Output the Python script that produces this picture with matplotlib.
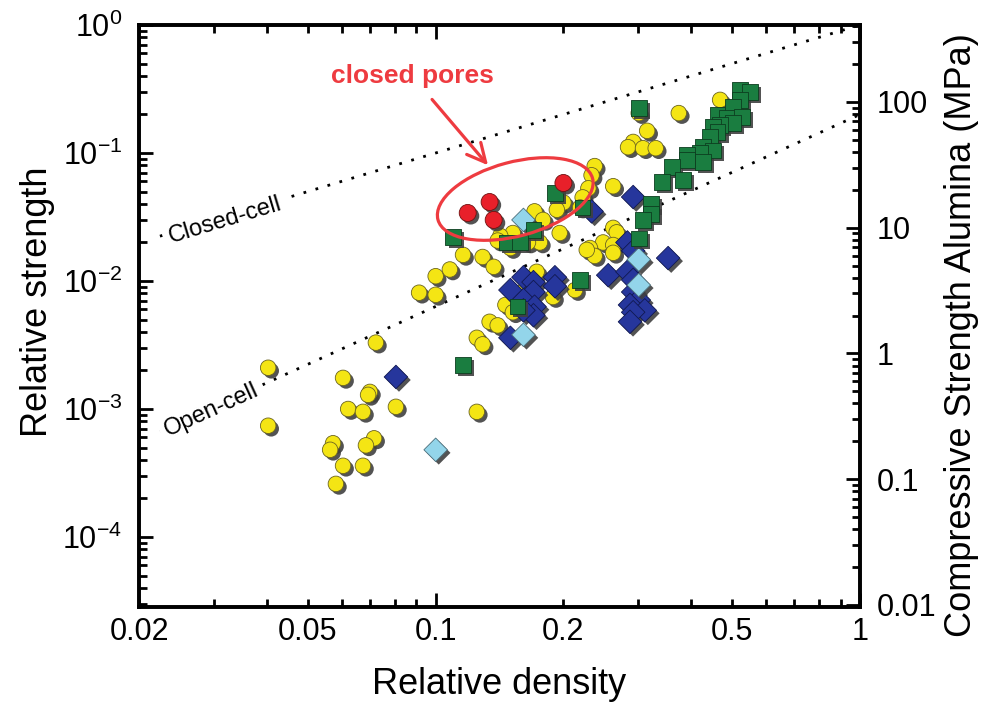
import numpy as np
import matplotlib
matplotlib.use('Agg')
import matplotlib.pyplot as plt
import matplotlib.ticker as mticker
import matplotlib.patheffects as pe
from matplotlib.patches import Ellipse
from matplotlib.transforms import ScaledTranslation

plt.rcParams['font.family'] = ['Liberation Sans', 'DejaVu Sans']
plt.rcParams['mathtext.fontset'] = 'custom'
plt.rcParams['mathtext.rm'] = 'Liberation Sans'
plt.rcParams['mathtext.default'] = 'regular'

# data: (relative density, relative strength)
yellow_x = [0.301, 0.374, 0.468, 0.315, 0.292, 0.284, 0.308, 0.330, 0.237, 0.233,
            0.229, 0.222, 0.262, 0.200, 0.193, 0.171, 0.179, 0.196, 0.176, 0.152,
            0.142, 0.150, 0.165, 0.219, 0.129, 0.137, 0.140, 0.116, 0.108, 0.100,
            0.0914, 0.100, 0.262, 0.267, 0.248, 0.262, 0.231, 0.237, 0.262, 0.227,
            0.173, 0.213, 0.161, 0.189, 0.146, 0.152, 0.134, 0.140, 0.125, 0.129,
            0.0723, 0.0403, 0.0605, 0.070, 0.0693, 0.0806, 0.0622, 0.0674, 0.125, 0.0403,
            0.0716, 0.0685, 0.0573, 0.0564, 0.0605, 0.0674, 0.0582]
yellow_y = [0.205, 0.205, 0.260, 0.149, 0.122, 0.111, 0.109, 0.109, 0.079, 0.067,
            0.053, 0.045, 0.055, 0.041, 0.036, 0.035, 0.030, 0.0237, 0.020, 0.0237,
            0.0225, 0.0181, 0.020, 0.0375, 0.0154, 0.0129, 0.0207, 0.016, 0.0123, 0.0109,
            0.0081, 0.0078, 0.026, 0.024, 0.020, 0.0191, 0.0181, 0.0157, 0.0166, 0.0175,
            0.0118, 0.0085, 0.0083, 0.0075, 0.0065, 0.0057, 0.0048, 0.0045, 0.0036, 0.0032,
            0.0033, 0.0021, 0.00175, 0.00136, 0.00129, 0.00104, 0.0010, 0.00095, 0.00095, 0.00074,
            0.00059, 0.00052, 0.00054, 0.00048, 0.00036, 0.00036, 0.00026]

red_x = [0.119, 0.134, 0.137, 0.200]
red_y = [0.034, 0.0414, 0.030, 0.0583]

green_x = [0.110, 0.301, 0.521, 0.551, 0.521, 0.462, 0.502, 0.486, 0.527, 0.502,
           0.468, 0.450, 0.462, 0.443, 0.427, 0.450, 0.420, 0.391, 0.391, 0.427,
           0.360, 0.383, 0.341, 0.191, 0.222, 0.170, 0.147, 0.158, 0.322, 0.322,
           0.308, 0.301, 0.219, 0.156, 0.116]
green_y = [0.0221, 0.225, 0.310, 0.300, 0.260, 0.198, 0.229, 0.188, 0.191, 0.172,
           0.166, 0.160, 0.146, 0.133, 0.111, 0.105, 0.100, 0.0965, 0.0882, 0.0851,
           0.0778, 0.0615, 0.0593, 0.0487, 0.0375, 0.025, 0.020, 0.020, 0.040, 0.0335,
           0.030, 0.0215, 0.0102, 0.0063, 0.0022]

blue_x = [0.292, 0.233, 0.283, 0.292, 0.353, 0.255, 0.283, 0.292, 0.292, 0.301,
          0.287, 0.311, 0.292, 0.287, 0.191, 0.191, 0.161, 0.170, 0.150, 0.170,
          0.161, 0.171, 0.170, 0.161, 0.150, 0.0806]
blue_y = [0.0453, 0.035, 0.020, 0.0172, 0.0151, 0.0111, 0.0118, 0.0102, 0.0082, 0.0071,
          0.0065, 0.0059, 0.0057, 0.0048, 0.0107, 0.0091, 0.0107, 0.0098, 0.0085, 0.0082,
          0.0071, 0.0063, 0.0054, 0.0059, 0.0036, 0.00178]

cyan_x = [0.161, 0.301, 0.301, 0.161, 0.100]
cyan_y = [0.030, 0.0147, 0.0093, 0.0038, 0.00048]

# model lines (Gibson-Ashby style)
line_x = [0.0224, 1.0]
closed_coef, closed_exp = 1.0, 1.0
open_coef, open_exp = 0.2, 1.5

x_major = [0.1, 1]
x_labelled = {0.02: '0.02', 0.05: '0.05', 0.1: '0.1', 0.2: '0.2', 0.5: '0.5', 1: '1'}
right_ticks = [0.01, 0.1, 1, 10, 100]
right_labels = ['0.01', '0.1', '1', '10', '100']

fig = plt.figure(figsize=(9.96, 7.08), dpi=100)
ax = fig.add_axes([0.1396, 0.1427, 0.7239, 0.8220])
ax.set_xscale('log')
ax.set_yscale('log')
ax.set_xlim(0.02, 1)
ax.set_ylim(2.84e-5, 1)

shadow = [pe.SimplePatchShadow(offset=(2.2, -2.2), shadow_rgbFace='0.25', alpha=0.9), pe.Normal()]
ms = 125
ax.scatter(yellow_x, yellow_y, s=ms, marker='o', c='#f4e514', edgecolors='#6b6420',
           linewidths=0.6, zorder=3, path_effects=shadow)
ax.scatter(blue_x, blue_y, s=ms * 1.15, marker='D', c='#26369c', edgecolors='#101850',
           linewidths=0.6, zorder=3, path_effects=shadow)
ax.scatter(cyan_x, cyan_y, s=ms * 1.15, marker='D', c='#93d5ea', edgecolors='#4b6e7a',
           linewidths=0.6, zorder=3, path_effects=shadow)
ax.scatter(green_x, green_y, s=ms, marker='s', c='#1a7d40', edgecolors='#0c3d1f',
           linewidths=0.6, zorder=3, path_effects=shadow)
ax.scatter(red_x, red_y, s=ms * 1.2, marker='o', c='#e8202a', edgecolors='#701010',
           linewidths=0.6, zorder=4, path_effects=shadow)

lx = np.array(line_x)
ax.plot(lx, closed_coef * lx ** closed_exp, color='k', lw=2.0, dashes=(1, 3.5), zorder=2)
ax.plot(lx, open_coef * lx ** open_exp, color='k', lw=2.0, dashes=(1, 3.5), zorder=2)
ax.text(0.0319, 0.030, 'Closed-cell', rotation=16.8, rotation_mode='anchor',
        ha='center', va='center', fontsize=17, zorder=2.5,
        bbox=dict(boxstyle='square,pad=0.25', fc='white', ec='none'))
ax.text(0.0297, 0.00098, 'Open-cell', rotation=24.4, rotation_mode='anchor',
        ha='center', va='center', fontsize=17, zorder=2.5,
        bbox=dict(boxstyle='square,pad=0.25', fc='white', ec='none'))

# closed pores annotation
red = '#ee3b40'
ell = Ellipse((0, 0), width=1.6, height=0.74, angle=15, fill=False, ec=red, lw=2.3,
              transform=fig.dpi_scale_trans + ScaledTranslation(0.154, 0.0437, ax.transData),
              zorder=5)
ax.add_patch(ell)
ax.annotate('closed pores', xy=(0.484, 0.759), xycoords='axes fraction',
            xytext=(0.379, 0.912), textcoords='axes fraction',
            ha='center', va='center', color=red, fontsize=19, fontweight='bold',
            arrowprops=dict(arrowstyle='->,head_length=0.7,head_width=0.35', color=red, lw=2.3,
                            shrinkA=8, shrinkB=0))

# x axis ticks
ax.xaxis.set_major_locator(mticker.FixedLocator(x_major))
ax.xaxis.set_minor_locator(mticker.LogLocator(base=10, subs=np.arange(2, 10), numticks=10))
fmt = mticker.FuncFormatter(lambda v, p: next((t for k, t in x_labelled.items() if abs(v - k) < 1e-9), ''))
ax.xaxis.set_major_formatter(fmt)
ax.xaxis.set_minor_formatter(fmt)

ax.yaxis.set_major_locator(mticker.LogLocator(base=10, numticks=10))
ax.yaxis.set_minor_locator(mticker.LogLocator(base=10, subs=np.arange(2, 10), numticks=10))
ax.yaxis.set_major_formatter(mticker.FuncFormatter(lambda v, p: r'$10^{%d}$' % round(np.log10(v))))
ax.yaxis.set_minor_formatter(mticker.NullFormatter())

ax.tick_params(which='both', direction='in', top=True, right=False, width=2, labelsize=22)
ax.tick_params(which='major', length=10)
ax.tick_params(which='minor', length=6)
ax.tick_params(axis='x', which='both', pad=7)
ax.tick_params(axis='y', which='both', pad=12)
for s in ax.spines.values():
    s.set_linewidth(2.6)

ax2 = ax.twinx()
ax2.set_yscale('log')
ax2.set_ylim(0.00964, 409)
ax2.yaxis.set_major_locator(mticker.FixedLocator(right_ticks))
ax2.yaxis.set_major_formatter(mticker.FixedFormatter(right_labels))
ax2.yaxis.set_minor_locator(mticker.LogLocator(base=10, subs=np.arange(2, 10), numticks=10))
ax2.yaxis.set_minor_formatter(mticker.NullFormatter())
ax2.tick_params(which='both', direction='in', width=2, labelsize=22, pad=12)
ax2.tick_params(which='major', length=10)
ax2.tick_params(which='minor', length=6)
for s in ax2.spines.values():
    s.set_linewidth(2.6)

ax.set_xlabel('Relative density', fontsize=26)
ax.set_ylabel('Relative strength', fontsize=26)
ax2.set_ylabel('Compressive Strength Alumina (MPa)', fontsize=26)
ax.xaxis.label.set_va('center')
ax.xaxis.set_label_coords(0.5, -0.134)
ax.yaxis.label.set_va('center')
ax.yaxis.set_label_coords(-0.141, 0.524)
ax2.yaxis.label.set_va('center')
ax2.yaxis.set_label_coords(1.141, 0.467)

fig.savefig('out.png', dpi=100)
